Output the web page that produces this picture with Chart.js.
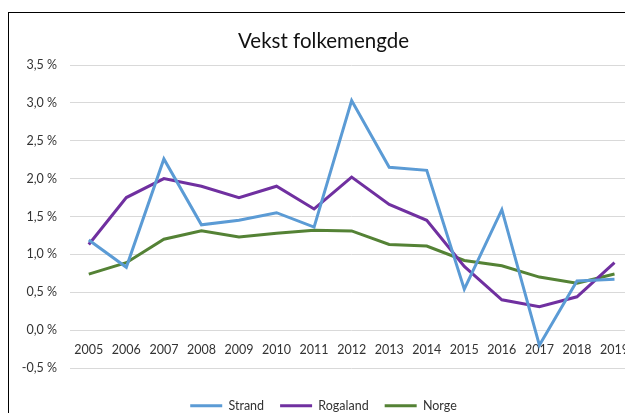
<!DOCTYPE html>
<html>
<head>
<meta charset="utf-8">
<script src="https://cdn.jsdelivr.net/npm/chart.js@4"></script>
<style>
  html, body { margin: 0; padding: 0; background: #fff; overflow: hidden; }
  body { width: 625px; height: 413px; position: relative; }
  .frame { position: absolute; left: 8px; top: 12px; width: 1000px; height: 1000px;
           border-left: 1px solid #000; border-top: 1px solid #000; }
  .wrap { position: absolute; left: 0; top: 0; width: 641px; height: 422px; }
</style>
</head>
<body>
<div class="frame"></div>
<div class="wrap"><canvas id="chart"></canvas></div>
<script>
// Vekst folkemengde, prosent per år
const years = ['2005', '2006', '2007', '2008', '2009', '2010', '2011', '2012', '2013', '2014', '2015', '2016', '2017', '2018', '2019'];
const strand = [1.19, 0.83, 2.26, 1.39, 1.45, 1.55, 1.36, 3.03, 2.15, 2.11, 0.54, 1.59, -0.20, 0.65, 0.67];
const rogaland = [1.13, 1.75, 2.00, 1.90, 1.75, 1.90, 1.60, 2.02, 1.66, 1.45, 0.84, 0.40, 0.31, 0.44, 0.89];
const norge = [0.74, 0.89, 1.20, 1.31, 1.23, 1.28, 1.32, 1.31, 1.13, 1.11, 0.92, 0.85, 0.70, 0.62, 0.74];

const BLUE = '#5b9bd5';
const PURPLE = '#7030a0';
const GREEN = '#548235';
const TEXT = '#333333';
const FONT = 'Lato, "Open Sans", sans-serif';

function line(label, data, color) {
  return { label, data, borderColor: color, backgroundColor: color, borderWidth: 3, pointRadius: 0, tension: 0 };
}

new Chart(document.getElementById('chart'), {
  type: 'line',
  data: {
    labels: years,
    datasets: [line('Strand', strand, BLUE), line('Rogaland', rogaland, PURPLE), line('Norge', norge, GREEN)],
  },
  options: {
    responsive: true, maintainAspectRatio: false, animation: false,
    layout: { padding: { left: 6, right: 0, top: 0, bottom: 0 } },
    plugins: {
      title: {
        display: true, text: 'Vekst folkemengde', color: '#111',
        font: { family: FONT, size: 20.5, weight: 'normal' },
        padding: { top: 29, bottom: 11.4 },
      },
      legend: {
        position: 'bottom',
        title: { display: true, text: ' ', font: { size: 1 }, padding: { top: 14.3, bottom: 0 } },
        labels: {
          usePointStyle: true, pointStyle: 'line', pointStyleWidth: 32,
          padding: 16, color: TEXT, font: { family: FONT, size: 12.5 },
        },
      },
      tooltip: { enabled: false },
    },
    scales: {
      x: {
        offset: true,
        position: { y: 0 },
        grid: { display: false, drawTicks: false },
        border: { display: false },
        ticks: { color: TEXT, font: { family: FONT, size: 12.5 }, padding: 12, maxRotation: 0, autoSkip: false },
      },
      y: {
        min: -0.5, max: 3.5,
        afterFit: s => { s.width = 64; },
        grid: { color: '#d9d9d9', lineWidth: 1, drawTicks: false },
        border: { display: false },
        ticks: {
          stepSize: 0.5, padding: 13, color: TEXT, font: { family: FONT, size: 12.5 },
          callback: v => v.toFixed(1).replace('.', ',') + ' %',
        },
      },
    },
  },
});
</script>
</body>
</html>
